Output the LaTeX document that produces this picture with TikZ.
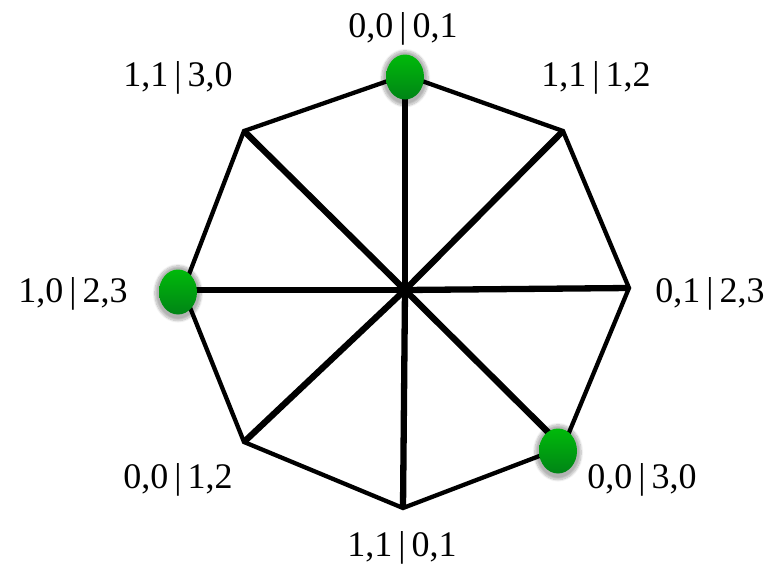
\documentclass[tikz,border=0pt]{standalone}
\usepackage{fontspec}
\setmainfont{Liberation Serif}
\usetikzlibrary{shapes.geometric,shadows.blur}
\definecolor{dotTop}{RGB}{0,186,10}
\definecolor{dotBottom}{RGB}{0,132,22}

\begin{document}
\begin{tikzpicture}[
  x=1pt, y=-1pt,
  edge/.style={line width=4.3pt, line join=miter},
  spoke/.style={line width=6.3pt},
  dot/.style={ellipse, minimum width=38pt, minimum height=45pt, inner sep=0pt,
              top color=dotTop, bottom color=dotBottom,
              blur shadow={shadow xshift=0pt, shadow yshift=-1pt, shadow scale=1.22,
                           shadow blur steps=12, shadow opacity=30}},
  lbl/.style={anchor=base, inner sep=0pt, font=\fontsize{36}{40}\selectfont},
]
\useasboundingbox (0,0) rectangle (771,563);
\coordinate (c) at (405,290);
\coordinate (v1) at (405,75);
\coordinate (v2) at (563,131);
\coordinate (v3) at (629,288);
\coordinate (v4) at (563,447);
\coordinate (v5) at (403,508);
\coordinate (v6) at (244,442);
\coordinate (v7) at (183,290);
\coordinate (v8) at (244,131);
\draw[edge] (v1) -- (v2) -- (v3) -- (v4) -- (v5) -- (v6) -- (v7) -- (v8) -- cycle;
\foreach \v in {v1,v2,v3,v4,v5,v6,v7,v8}
  \draw[spoke] (c) -- (\v);
\node[dot] (g1) at (405,77) {};
\node[dot] (g7) at (178,292) {};
\node[dot] (g4) at (558,451) {};
\node[lbl] (l1) at (403,37) {0,0\,|\,0,1};
\node[lbl] (l2) at (596,86) {1,1\,|\,1,2};
\node[lbl] (l3) at (710,302) {0,1\,|\,2,3};
\node[lbl] (l4) at (642,488) {0,0\,|\,3,0};
\node[lbl] (l5) at (402,556) {1,1\,|\,0,1};
\node[lbl] (l6) at (178,488) {0,0\,|\,1,2};
\node[lbl] (l7) at (73,302) {1,0\,|\,2,3};
\node[lbl] (l8) at (178,86) {1,1\,|\,3,0};
\end{tikzpicture}
\end{document}
